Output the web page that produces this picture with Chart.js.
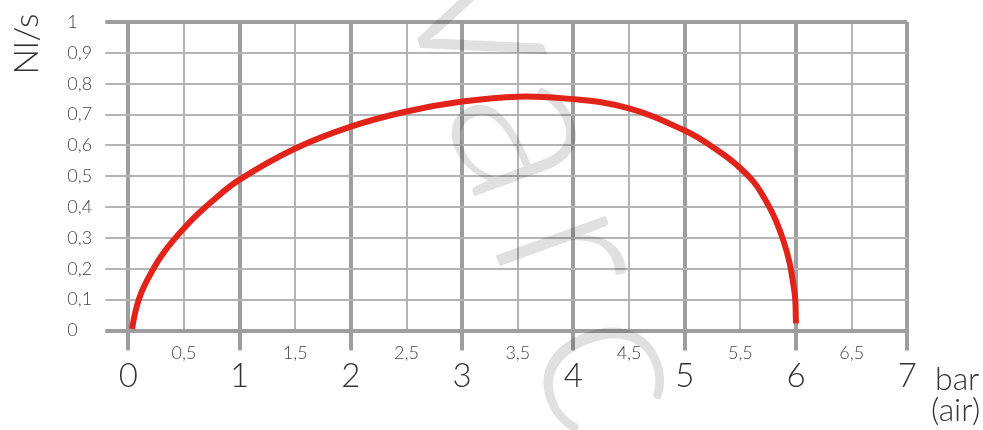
<!DOCTYPE html>
<html>
<head>
<meta charset="utf-8">
<script src="https://cdn.jsdelivr.net/npm/chart.js@4/dist/chart.umd.min.js"></script>
<style>
  html, body { margin: 0; padding: 0; background: #fff; }
  canvas { display: block; }
</style>
</head>
<body>
<canvas id="chart1" width="983" height="430"></canvas>
<script>
// datos de la curva (bar -> Nl/s)
const presion = [0.034, 0.057, 0.093, 0.147, 0.303, 0.527, 0.75, 1.0, 1.5, 2.0, 2.5, 3.0, 3.5, 4.0, 4.5, 5.0, 5.25, 5.5, 5.69, 5.885, 5.984, 6.0];
const caudal  = [0.005, 0.05, 0.099, 0.147, 0.245, 0.342, 0.418, 0.489, 0.59, 0.661, 0.71, 0.742, 0.758, 0.75, 0.72, 0.648, 0.595, 0.526, 0.445, 0.293, 0.131, 0.023];
const ticksX = [0, 0.5, 1, 1.5, 2, 2.5, 3, 3.5, 4, 4.5, 5, 5.5, 6, 6.5, 7];
const marcaAgua = ['v', 'a', 'r', 'c', 'o'];

const FONT = 'Lato, "DejaVu Sans", sans-serif';
const GRIS_FUERTE = '#9e9e9e';
const GRIS_SUAVE = '#b4b4b4';
const esEntero = v => Math.abs(v - Math.round(v)) < 1e-6;
const coma = v => (esEntero(v) ? String(Math.round(v)) : v.toFixed(1).replace('.', ','));

const decor = {
    id: 'decor',
    beforeDatasetsDraw(chart) {
        // marca de agua
        const c = chart.ctx;
        c.save();
        c.fillStyle = 'rgba(0,0,0,0.12)';
        c.font = '300 235px ' + FONT;
        c.textAlign = 'center';
        c.textBaseline = 'alphabetic';
        const ang = 70 * Math.PI / 180;
        const dx = Math.cos(ang), dy = Math.sin(ang);
        marcaAgua.forEach((ch, i) => {
            const cx = 517 + (i - 1) * 124 * dx;
            const cy = 140 + (i - 1) * 124 * dy;
            c.save();
            c.translate(cx - 56, cy + 20);
            c.rotate(ang);
            c.fillText(ch, 0, 0);
            c.restore();
        });
        c.restore();
    },
    afterDraw(chart) {
        const c = chart.ctx;
        const sx = chart.scales.x;
        c.save();
        c.textAlign = 'center';
        c.textBaseline = 'middle';
        ticksX.forEach(v => {
            const px = sx.getPixelForValue(v);
            if (esEntero(v)) {
                c.font = '300 33px ' + FONT;
                c.fillStyle = '#333';
                c.fillText(coma(v), px, 376);
            } else {
                c.font = '300 18px ' + FONT;
                c.fillStyle = '#444';
                c.fillText(coma(v), px, 353);
            }
        });
        // unidades
        c.textAlign = 'left';
        c.textBaseline = 'alphabetic';
        c.fillStyle = '#333';
        c.font = '300 32px ' + FONT;
        c.fillText('bar', 935, 390);
        c.fillText('(air)', 931, 421);
        c.save();
        c.translate(38, 44);
        c.rotate(-Math.PI / 2);
        c.textAlign = 'center';
        c.font = '300 34px ' + FONT;
        c.fillText('Nl/s', 0, 0);
        c.restore();
        c.restore();
    }
};

const ctx1 = document.getElementById('chart1').getContext('2d');

const chart1 = new Chart(ctx1, {
    type: 'line',
    data: {
        datasets: [{
            label: 'Nl/s',
            data: presion.map((p, i) => ({ x: p, y: caudal[i] })),
            borderColor: '#e2231a',
            borderWidth: 6,
            pointRadius: 0,
            fill: false,
            tension: 0.4,
            borderCapStyle: 'butt'
        }]
    },
    options: {
        responsive: false,
        animation: false,
        layout: { padding: { left: 67.3, top: 22, right: 75.7, bottom: 0 } },
        plugins: {
            legend: { display: false },
            tooltip: { enabled: false }
        },
        scales: {
            x: {
                type: 'linear',
                min: 0,
                max: 7,
                ticks: { stepSize: 0.5, display: false },
                grid: {
                    color: c => esEntero(c.tick.value) ? GRIS_FUERTE : GRIS_SUAVE,
                    lineWidth: c => esEntero(c.tick.value) ? 4 : 2,
                    tickLength: 20,
                    tickWidth: 4,
                    tickColor: c => esEntero(c.tick.value) ? GRIS_FUERTE : 'rgba(0,0,0,0)'
                },
                border: { display: false },
                afterFit(s) { s.height = 99.5; }
            },
            y: {
                min: 0,
                max: 1,
                ticks: {
                    stepSize: 0.1,
                    crossAlign: 'far',
                    color: '#444',
                    font: { family: FONT, size: 18, weight: 300 },
                    callback: v => coma(v)
                },
                grid: {
                    color: c => (c.tick.value === 0 || c.tick.value === 1) ? GRIS_FUERTE : GRIS_SUAVE,
                    lineWidth: c => (c.tick.value === 0 || c.tick.value === 1) ? 4 : 2,
                    tickLength: 23
                },
                border: { display: false },
                afterFit(s) { s.width = 61; }
            }
        }
    },
    plugins: [decor]
});
</script>
</body>
</html>
